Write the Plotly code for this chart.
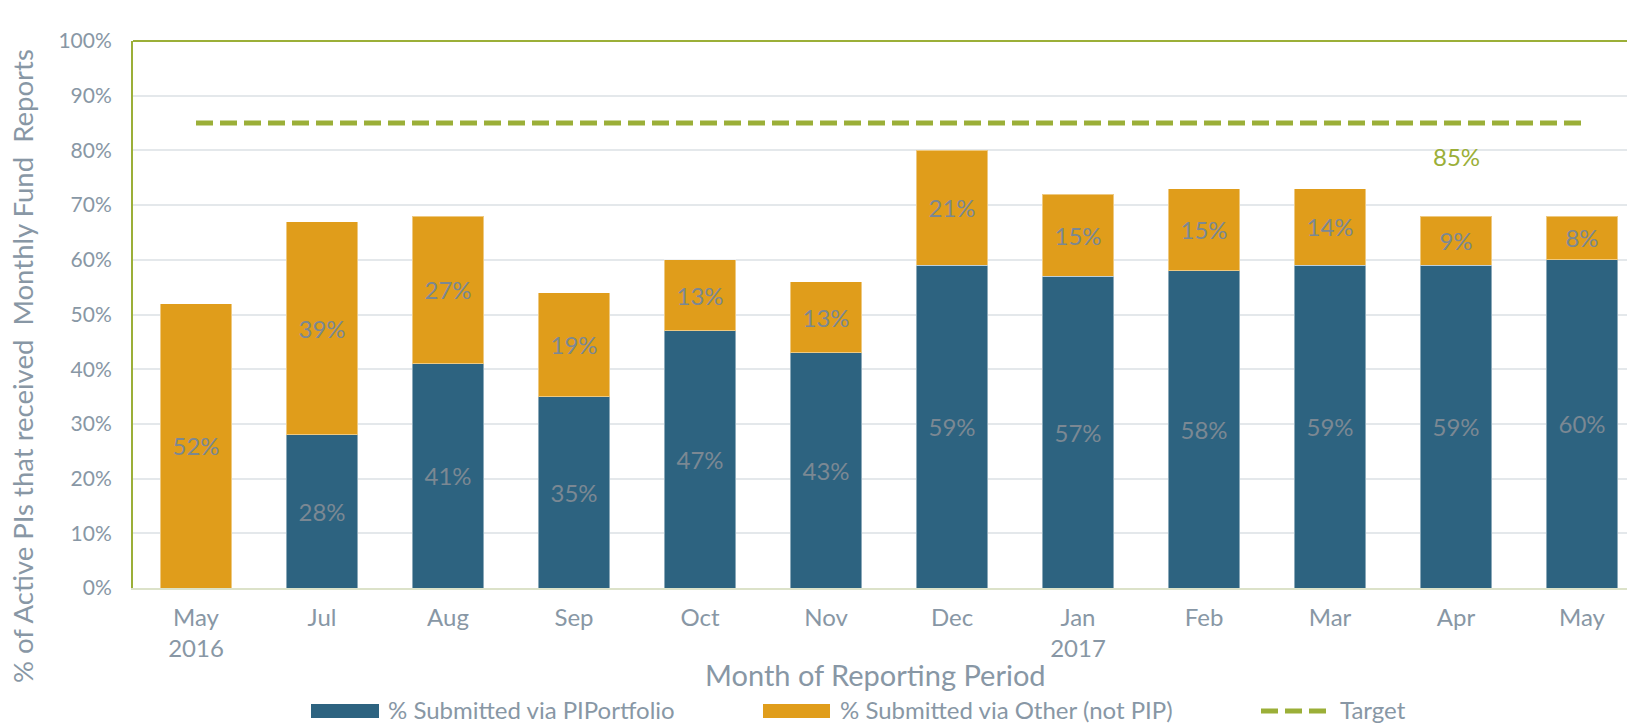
import plotly.graph_objects as go

# Reporting months (May 2016 – May 2017)
months = ["May<br>2016", "Jul", "Aug", "Sep", "Oct", "Nov", "Dec",
          "Jan<br>2017", "Feb", "Mar", "Apr", "May"]
via_piportfolio = [0, 28, 41, 35, 47, 43, 59, 57, 58, 59, 59, 60]
via_other = [52, 39, 27, 19, 13, 13, 21, 15, 15, 14, 9, 8]
target = [85] * len(months)
target_label_month = 10  # "Apr"
y_ticks = list(range(0, 101, 10))
y_tick_text = [f"{v}%" for v in y_ticks]

BLUE = "#2D6380"
ORANGE = "#E09D1B"
GREEN = "#9BAF38"
TICK_GREY = "#8897A5"
LABEL_GREY = "#7B8893"
FONT = "Lato"

W, H = 1627, 724
ML, MT, MB, MR = 133, 41, 136, 0
PW = W - ML - MR
PH = H - MT - MB


def px_x(px):
    return (px - ML) / PW


def px_y(py):
    return (H - MB - py) / PH


x = list(range(len(months)))


def pct_text(vals):
    return [f"{v}%" if v else "" for v in vals]


fig = go.Figure()
fig.add_bar(
    x=x, y=via_piportfolio, name="% Submitted via PIPortfolio",
    marker=dict(color=BLUE, line=dict(color="rgba(255,255,255,0.45)", width=1)),
    width=0.57, text=pct_text(via_piportfolio), textposition="inside",
    insidetextanchor="middle", textangle=0,
    textfont=dict(family=FONT, size=24, color=LABEL_GREY),
    showlegend=False,
)
fig.add_bar(
    x=x, y=via_other, name="% Submitted via Other (not PIP)",
    marker=dict(color=ORANGE, line=dict(color="rgba(255,255,255,0.45)", width=1)),
    width=0.57, text=pct_text(via_other), textposition="inside",
    insidetextanchor="middle", textangle=0,
    textfont=dict(family=FONT, size=24, color=LABEL_GREY),
    showlegend=False,
)
fig.add_scatter(
    x=x, y=target, mode="lines", name="Target",
    line=dict(color=GREEN, width=5, dash="17px,7px"),
    showlegend=False, hoverinfo="skip",
)

# Target value label
fig.add_annotation(
    x=target_label_month, y=target[target_label_month], text=f"{target[target_label_month]}%",
    showarrow=False, yshift=-33, font=dict(family=FONT, size=24, color=GREEN),
)

# Top frame line
fig.add_shape(type="line", xref="paper", yref="paper", x0=0, x1=1, y0=1, y1=1,
              line=dict(color=GREEN, width=2))

# Axis titles
fig.add_annotation(
    xref="paper", yref="paper", x=px_x(22), y=px_y(366),
    xanchor="center", yanchor="middle",
    text="% of Active PIs that received&nbsp;&nbsp;Monthly Fund&nbsp;&nbsp;Reports",
    textangle=-90, showarrow=False, font=dict(family=FONT, size=27.5, color=TICK_GREY),
)
fig.add_annotation(
    xref="paper", yref="paper", x=px_x(875), y=px_y(674),
    xanchor="center", yanchor="middle",
    text="Month of Reporting Period", showarrow=False,
    font=dict(family=FONT, size=29, color=TICK_GREY),
)

# Legend row
legend_items = [
    ("rect", BLUE, 311, 379, "% Submitted via PIPortfolio", 386),
    ("rect", ORANGE, 763, 830, "% Submitted via Other (not PIP)", 838),
    ("dash", GREEN, 1261, 1328, "Target", 1338),
]
ly = 711
for kind, color, x0, x1, label, tx in legend_items:
    if kind == "rect":
        fig.add_shape(type="rect", xref="paper", yref="paper",
                      x0=px_x(x0), x1=px_x(x1), y0=px_y(ly - 7), y1=px_y(ly + 7),
                      fillcolor=color, line=dict(width=0))
    else:
        fig.add_shape(type="line", xref="paper", yref="paper",
                      x0=px_x(x0), x1=px_x(x1), y0=px_y(ly), y1=px_y(ly),
                      line=dict(color=color, width=5, dash="17px,7px"))
    fig.add_annotation(xref="paper", yref="paper", x=px_x(tx), y=px_y(ly - 2),
                       xanchor="left", yanchor="middle", text=label, showarrow=False,
                       font=dict(family=FONT, size=24, color=TICK_GREY))

fig.update_layout(
    width=W, height=H,
    margin=dict(l=ML, r=MR, t=MT, b=MB, pad=0),
    barmode="stack",
    plot_bgcolor="white", paper_bgcolor="white",
    font=dict(family=FONT, color=TICK_GREY),
    showlegend=False,
)
fig.update_xaxes(
    range=[-0.5, -0.5 + PW / 126], tickmode="array", tickvals=x, ticktext=months,
    showgrid=False, showline=True, linecolor="#DCE2C9", linewidth=2,
    ticks="", ticklabelstandoff=7,
    tickfont=dict(family=FONT, size=24, color=TICK_GREY), zeroline=False,
)
fig.update_yaxes(
    range=[0, 100], tickmode="array", tickvals=y_ticks, ticktext=y_tick_text,
    showgrid=True, gridcolor="#E4E8EB", gridwidth=2,
    showline=True, linecolor=GREEN, linewidth=2, zeroline=False,
    ticks="", ticklabelstandoff=15,
    tickfont=dict(family=FONT, size=21, color=TICK_GREY),
)

fig.write_html("out.html")
